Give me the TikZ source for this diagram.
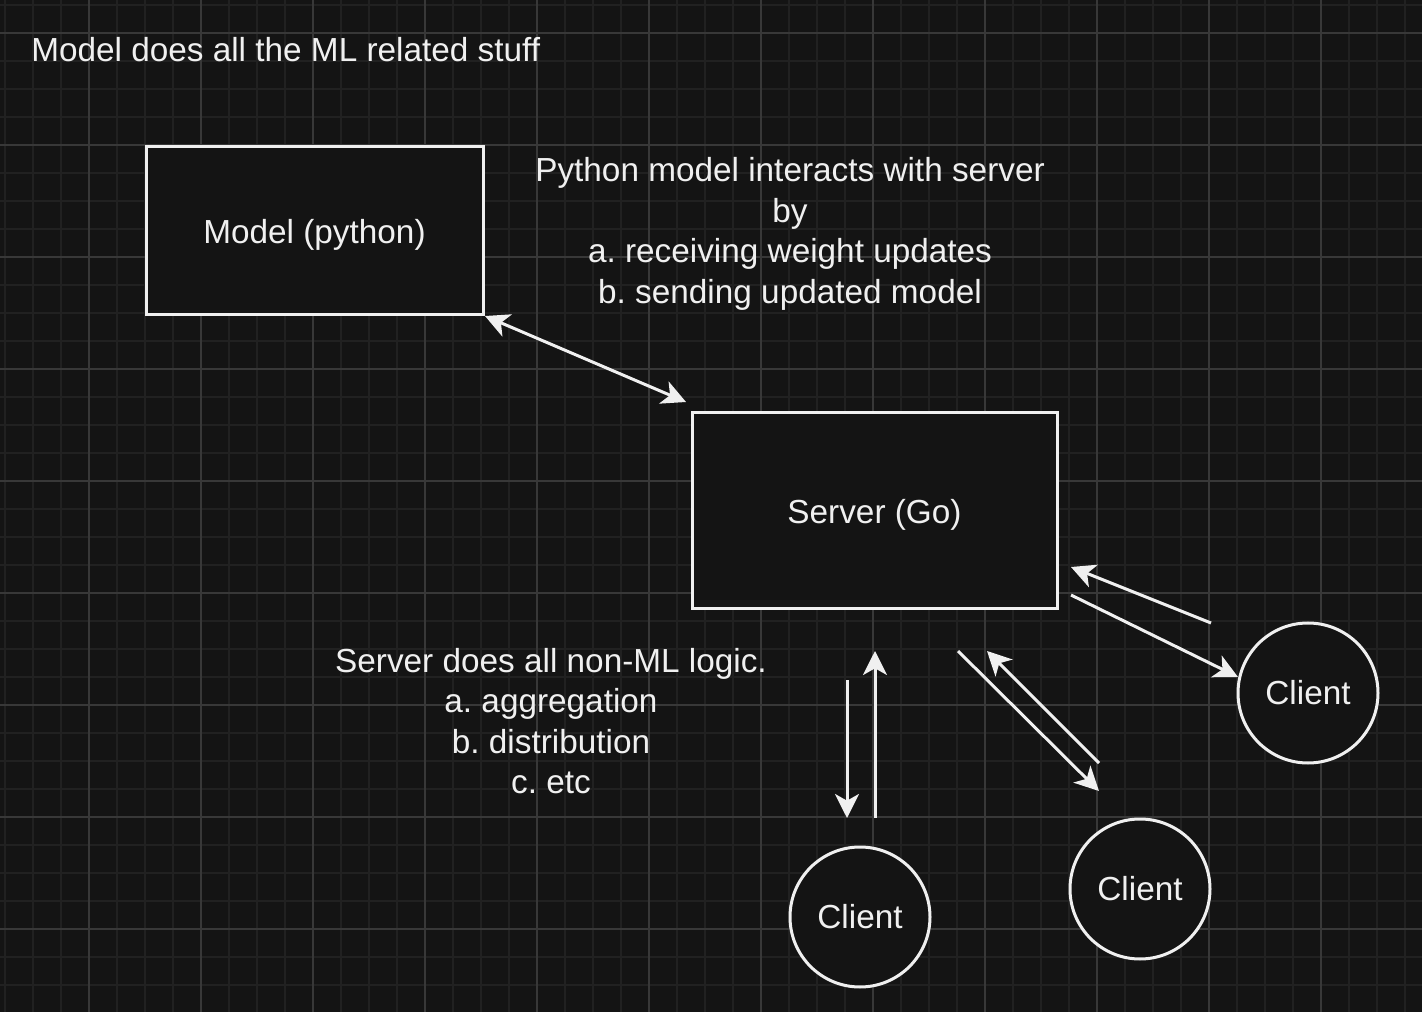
\documentclass[tikz,border=0pt]{standalone}
\usepackage{fontspec}
\setmainfont{Liberation Sans}
\usetikzlibrary{arrows.meta}
\definecolor{bg}{HTML}{141414}
\definecolor{gminor}{HTML}{212121}
\definecolor{gmajor}{HTML}{383838}
\definecolor{fg}{HTML}{F0F0F0}
\newcommand{\lowered}[1]{\raisebox{-3pt}[\height][\depth]{#1}}
\tikzset{
  px/.style={x=0.75pt,y=-0.75pt},
  txt/.style={text=fg,font=\fontsize{25}{30.4}\selectfont\frenchspacing,inner sep=0pt,align=center},
  boxnode/.style={draw=fg,line width=2.25pt,fill=bg,txt,inner sep=0pt},
  clientnode/.style={circle,draw=fg,line width=2.25pt,fill=bg,txt,minimum size=105pt,inner sep=0pt},
  conn/.style={draw=fg,line width=2.25pt},
  tip/.style={-{Stealth[length=18pt,width=18pt,inset=5pt]}},
  tips/.style={{Stealth[length=18pt,width=18pt,inset=5pt]}-{Stealth[length=18pt,width=18pt,inset=5pt]}}
}
\begin{document}
\begin{tikzpicture}[px]
\fill[bg] (0,0) rectangle (1422,1012);
\useasboundingbox (0,0) rectangle (1422,1012);
% grid
\foreach \i in {0,...,51} {
  \pgfmathsetmacro{\xx}{5+28*\i}
  \draw[gminor,line width=1.2pt] (\xx,0) -- (\xx,1012);
}
\foreach \i in {0,...,36} {
  \pgfmathsetmacro{\yy}{5+28*\i}
  \draw[gminor,line width=1.2pt] (0,\yy) -- (1422,\yy);
}
\foreach \i in {0,...,12} {
  \pgfmathsetmacro{\xx}{89+112*\i}
  \draw[gmajor,line width=1.2pt] (\xx,0) -- (\xx,1012);
}
\foreach \i in {0,...,8} {
  \pgfmathsetmacro{\yy}{33+112*\i}
  \draw[gmajor,line width=1.2pt] (0,\yy) -- (1422,\yy);
}
% texts
\node[txt,anchor=west] (title) at (31,50) {Model does all the ML related stuff};
\node[txt] (pytext) at (790,234) {Python model interacts with server\\by\\a. receiving weight updates\\b. sending updated model};
\node[txt] (srvtext) at (551,721) {Server does all non-ML logic.\\a. aggregation\\b. distribution\\c. etc};
% boxes
\node[boxnode,minimum width=252.75pt,minimum height=126pt] (model) at (314.5,231) {\lowered{Model (python)}};
\node[boxnode,minimum width=273.75pt,minimum height=147pt] (server) at (874.5,511) {\lowered{Server (Go)}};
\node[clientnode] (c1) at (1308,693) {Client};
\node[clientnode] (c2) at (860,917) {Client};
\node[clientnode] (c3) at (1140,889) {Client};
% connector endpoints
\coordinate (a1) at (485,316);
\coordinate (a2) at (686,402);
\coordinate (b1) at (847,680);
\coordinate (b2) at (847,818);
\coordinate (b3) at (875,818);
\coordinate (b4) at (875,651);
\coordinate (d1) at (958,651);
\coordinate (d2) at (1099,791);
\coordinate (d3) at (1099,763);
\coordinate (d4) at (987,651);
\coordinate (e1) at (1211,623);
\coordinate (e2) at (1071,567);
\coordinate (e3) at (1071,595);
\coordinate (e4) at (1238,677);
\draw[conn,tips] (a1) -- (a2);
\draw[conn,tip] (b1) -- (b2);
\draw[conn,tip] (b3) -- (b4);
\draw[conn,tip] (d1) -- (d2);
\draw[conn,tip] (d3) -- (d4);
\draw[conn,tip] (e1) -- (e2);
\draw[conn,tip] (e3) -- (e4);
\end{tikzpicture}
\end{document}
